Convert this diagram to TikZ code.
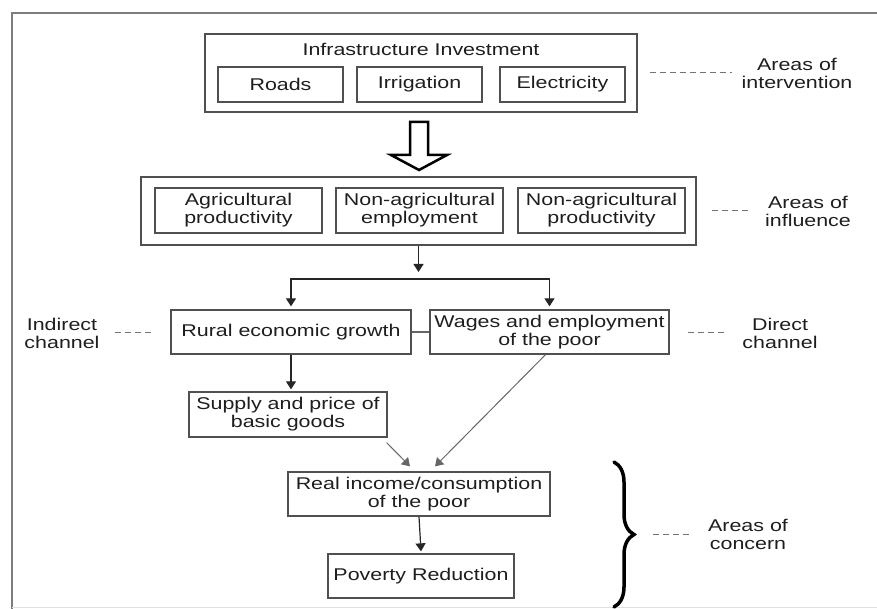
\documentclass[tikz,border=0pt]{standalone}
\usepackage{fontspec}
\setmainfont{Liberation Sans}[FakeStretch=1.26]
\usetikzlibrary{arrows.meta}
\usetikzlibrary{decorations.pathreplacing}
\definecolor{lineGray}{RGB}{80,80,80}
\definecolor{textGray}{RGB}{30,30,30}
\definecolor{frameGray}{RGB}{125,125,125}

\begin{document}
\begin{tikzpicture}[
    x=1pt, y=-1pt,
    font=\fontsize{17}{18}\selectfont,
    text=textGray,
    box/.style={
        draw=lineGray,
        line width=1.3pt,
        inner sep=1pt,
        align=center
    },
    tag/.style={
        align=center,
        inner sep=0pt
    },
    arr/.style={draw=black!85, line width=1.2pt, -{Triangle[length=8pt,width=10pt]}},
    slant/.style={draw=black!60, line width=1pt, -{Triangle[length=8pt,width=10pt]}},
    dashline/.style={draw=black!55, line width=1pt, dash pattern=on 6pt off 4pt}
]
    \useasboundingbox (0,0) rectangle (877,609);

    % frame
    \draw[frameGray, line width=2.5pt] (890,13) -- (12,13) -- (12,612);
    \draw[black!12, line width=1pt] (12,607) -- (890,607);

    % Areas of intervention
    \node[box, minimum width=432, minimum height=78] (infra) at (421,73) {};
    \node[tag] (infratitle) at (421,49) {Infrastructure Investment};
    \node[box, minimum width=125, minimum height=35] (roads) at (280.5,84.5) {Roads};
    \node[box, minimum width=125, minimum height=35] (irrig) at (419.5,84.5) {Irrigation};
    \node[box, minimum width=125, minimum height=35] (elec) at (562.5,84.5) {Electricity};

    \coordinate (hollow) at (419,122);
    \draw[black, line width=2.5pt, line join=miter, fill=white]
        (hollow) ++(-9,0) -- ++(18,0) -- ++(0,33) -- ++(19,0)
        -- ++(-28,15) -- ++(-28,-15) -- ++(19,0) -- cycle;

    % Areas of influence
    \node[box, minimum width=555, minimum height=68] (influence) at (418.5,211) {};
    \node[box, minimum width=167, minimum height=45] (agri) at (238.5,210.5) {Agricultural\\productivity};
    \node[box, minimum width=167, minimum height=45] (nonemp) at (419.5,210.5) {Non-agricultural\\employment};
    \node[box, minimum width=167, minimum height=45] (nonprod) at (601.5,210.5) {Non-agricultural\\productivity};

    % channels
    \node[box, minimum width=240, minimum height=44] (rural) at (291,332) {Rural economic growth};
    \node[box, minimum width=239, minimum height=44] (wages) at (549.5,332) {Wages and employment\\of the poor};
    \node[box, minimum width=198, minimum height=45] (supply) at (288,414.5) {Supply and price of\\basic goods};

    % Areas of concern
    \node[box, minimum width=262, minimum height=44] (realinc) at (419,494) {Real income/consumption\\of the poor};
    \node[box, minimum width=186, minimum height=44] (poverty) at (421,576) {Poverty Reduction};

    % side labels
    \node[tag] (intervention) at (797,73.5) {Areas of\\intervention};
    \node[tag] (influencetag) at (808,211.5) {Areas of\\influence};
    \node[tag] (indirect) at (62,333) {Indirect\\channel};
    \node[tag] (direct) at (780,333) {Direct\\channel};
    \node[tag] (concern) at (748,534.5) {Areas of\\concern};

    \draw[dashline, shorten <=12pt, shorten >=9pt] (infra.east) -- (infra.east -| intervention.west);
    \draw[dashline, shorten <=15pt, shorten >=16pt] (influence.east) -- (influence.east -| influencetag.west);
    \draw[dashline, shorten <=15pt, shorten >=17pt] (indirect.east |- rural.west) -- (rural.west);
    \draw[dashline, shorten <=18pt, shorten >=18pt] (wages.east) -- (wages.east -| direct.west);

    % arrows
    \coordinate (fork) at (418.5,279);
    \draw[arr] (influence.south) -- ([yshift=7pt]fork);
    \draw[arr] (fork) -| ([yshift=3pt]rural.north);
    \draw[arr] (fork) -| ([yshift=3pt]wages.north);
    \draw[black!60, line width=1.2pt] (rural.east) -- (wages.west);
    \draw[arr] (rural.south) -- ([yshift=2pt]rural.south |- supply.north);
    \draw[slant] ([xshift=-1pt,yshift=-5pt]supply.south east) -- ([xshift=-9pt,yshift=5pt]realinc.north);
    \draw[slant] ([xshift=-4pt]wages.south) -- ([xshift=16pt,yshift=5pt]realinc.north);
    \draw[arr] (realinc.south) -- ([yshift=2pt]poverty.north);

    % brace
    \draw[black, line width=3.5pt, line cap=round, decorate, decoration={brace, amplitude=20pt}]
        (614,462) -- (614,607);
    \coordinate (bracetip) at (634,534.5);
    \draw[dashline, shorten <=19pt, shorten >=18pt] (bracetip) -- (bracetip -| concern.west);

\end{tikzpicture}
\end{document}
